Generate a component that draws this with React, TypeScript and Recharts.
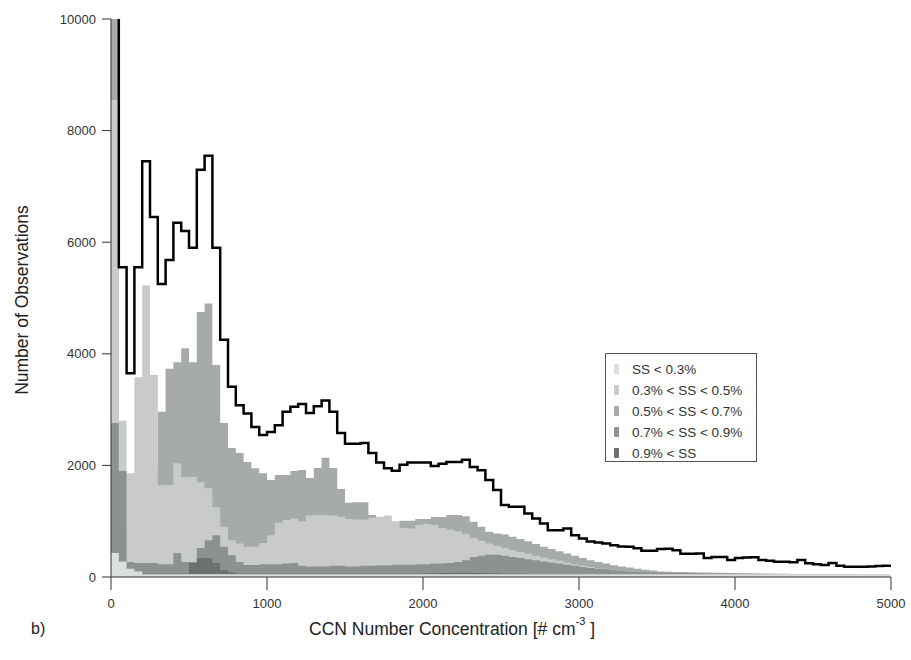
import React from 'react';
import { ComposedChart, Area, Line, XAxis, YAxis } from 'recharts';

const BIN_WIDTH = 50;

// Total observations per 50 cm^-3 bin (black step line)
const totalCounts = [
  12000, 5550, 3650, 5550, 7450, 6450, 5250, 5680, 6350, 6200,
  5900, 7300, 7550, 5900, 4250, 3410, 3080, 2930, 2690, 2545,
  2600, 2720, 2960, 3050, 3100, 2940, 3060, 3165, 2960, 2580,
  2390, 2390, 2400, 2220, 2050, 1950, 1905, 2010, 2050, 2050,
  2050, 1990, 2030, 2060, 2060, 2100, 1970, 1915, 1740, 1560,
  1290, 1260, 1260, 1140, 1050, 960, 840, 840, 870, 750,
  690, 635, 620, 600, 570, 545, 540, 515, 470, 470,
  500, 505, 480, 415, 415, 420, 340, 360, 360, 305,
  340, 350, 355, 305, 290, 275, 275, 265, 305, 245,
  230, 215, 250, 200, 185, 185, 185, 190, 195, 200,
];

// SS < 0.3%
const ssBelow03 = [
  430, 280, 150, 100, 50, 50, 50, 50, 50, 50,
  50, 50, 50, 50, 50, 50, 50, 50, 50, 50,
  50, 50, 50, 50, 50, 50, 50, 50, 50, 50,
  50, 50, 50, 50, 50, 50, 50, 50, 50, 50,
  50, 50, 50, 50, 50, 50, 50, 50, 50, 50,
  50, 50, 50, 50, 50, 50, 50, 50, 50, 50,
  50, 50, 50, 50, 50, 50, 50, 50, 50, 50,
  50, 50, 50, 50, 50, 50, 50, 50, 50, 50,
  50, 50, 50, 50, 50, 50, 50, 50, 50, 50,
  50, 50, 50, 50, 50, 50, 50, 50, 50, 50,
];

// 0.3% < SS < 0.5%
const ss03to05 = [
  8550, 2800, 1860, 3580, 5230, 3620, 1650, 1650, 2040, 1790,
  1790, 1700, 1590, 1250, 900, 660, 600, 540, 540, 610,
  750, 970, 1020, 1050, 1000, 1100, 1110, 1110, 1100, 1080,
  1040, 1030, 1030, 1060, 1080, 1100, 1000, 880, 870, 930,
  950, 930, 880, 850, 820, 770, 700, 650, 600, 560,
  520, 480, 450, 420, 380, 350, 320, 290, 260, 230,
  200, 180, 160, 140, 120, 110, 100, 90, 80, 70,
  65, 60, 58, 55, 52, 50, 48, 46, 44, 42,
  40, 39, 38, 37, 36, 35, 34, 33, 32, 31,
  30, 30, 29, 28, 28, 27, 26, 26, 25, 25,
];

// 0.5% < SS < 0.7%
const ss05to07 = [
  11000, 600, 300, 300, 800, 2000, 2960, 3730, 3850, 4100,
  3850, 4750, 4900, 3800, 2760, 2310, 2220, 2060, 1950, 1860,
  1740, 1830, 1830, 1900, 1917, 1774, 1953, 2138, 1953, 1577,
  1332, 1340, 1340, 1111, 1057, 991, 991, 1010, 1010, 1040,
  1040, 1075, 1075, 1111, 1111, 1090, 991, 902, 812, 780,
  760, 720, 680, 640, 590, 540, 500, 460, 420, 380,
  340, 300, 270, 240, 210, 190, 170, 150, 130, 115,
  100, 95, 90, 88, 85, 82, 80, 78, 75, 72,
  70, 68, 66, 64, 62, 60, 58, 56, 55, 54,
  53, 52, 51, 50, 49, 48, 47, 46, 45, 44,
];

// 0.7% < SS < 0.9%
const ss07to09 = [
  2760, 1900, 270, 250, 250, 250, 230, 230, 430, 270,
  270, 520, 660, 750, 540, 390, 270, 215, 215, 230,
  230, 230, 240, 250, 200, 190, 190, 190, 200, 200,
  190, 190, 200, 200, 210, 210, 220, 220, 220, 230,
  230, 240, 240, 250, 270, 300, 360, 380, 400, 400,
  380, 360, 340, 320, 300, 280, 260, 240, 220, 200,
  180, 160, 150, 140, 120, 110, 100, 90, 85, 80,
  78, 75, 72, 70, 68, 66, 64, 62, 60, 58,
  57, 56, 55, 54, 53, 52, 51, 50, 49, 48,
  47, 46, 45, 44, 43, 42, 41, 40, 40, 40,
];

// 0.9% < SS
const ssAbove09 = [
  100, 80, 60, 60, 60, 60, 60, 60, 60, 60,
  250, 340, 340, 250, 120, 80, 60, 60, 60, 60,
  60, 60, 60, 60, 60, 60, 60, 60, 60, 60,
  60, 60, 60, 60, 60, 60, 60, 60, 60, 60,
  65, 65, 70, 70, 75, 75, 70, 70, 65, 65,
  60, 60, 60, 55, 55, 55, 50, 50, 50, 50,
  45, 45, 45, 45, 40, 40, 40, 40, 40, 40,
  35, 35, 35, 35, 35, 35, 35, 35, 35, 35,
  30, 30, 30, 30, 30, 30, 30, 30, 30, 30,
  30, 30, 30, 30, 30, 30, 30, 30, 30, 30,
];

const xTicks = [0, 1000, 2000, 3000, 4000, 5000];
const yTicks = [0, 2000, 4000, 6000, 8000, 10000];

const seriesInfo = [
  { key: 'ss05to07', label: '0.5% < SS < 0.7%', color: '#a6abaa' },
  { key: 'ss03to05', label: '0.3% < SS < 0.5%', color: '#c9caca' },
  { key: 'ss07to09', label: '0.7% < SS < 0.9%', color: '#8d9291' },
  { key: 'ssAbove09', label: '0.9% < SS', color: '#6c7170' },
  { key: 'ssBelow03', label: 'SS < 0.3%', color: '#dcdfdf' },
];

const legendOrder = ['ssBelow03', 'ss03to05', 'ss05to07', 'ss07to09', 'ssAbove09'];

const n = totalCounts.length;
const data = Array.from({ length: n + 1 }, (_, i) => {
  const j = Math.min(i, n - 1);
  return {
    x: i * BIN_WIDTH,
    total: totalCounts[j],
    ssBelow03: ssBelow03[j],
    ss03to05: ss03to05[j],
    ss05to07: ss05to07[j],
    ss07to09: ss07to09[j],
    ssAbove09: ssAbove09[j],
  };
});

const FONT = '"Liberation Sans", Arial, Helvetica, sans-serif';

export default function App() {
  return (
    <div style={{ position: 'absolute', left: 0, top: 0, width: 911, height: 660, background: '#fff', fontFamily: FONT }}>
      <ComposedChart width={911} height={660} data={data} margin={{ top: 19, right: 20, bottom: 0, left: 0 }}>
        <XAxis
          type="number"
          dataKey="x"
          domain={[0, 5000]}
          ticks={xTicks}
          allowDataOverflow
          height={83}
          tickSize={13}
          tickMargin={9}
          axisLine={{ stroke: '#333', strokeWidth: 1 }}
          tickLine={{ stroke: '#333', strokeWidth: 1 }}
          tick={{ fill: '#333', fontSize: 13, fontFamily: FONT }}
        />
        <YAxis
          type="number"
          domain={[0, 10000]}
          ticks={yTicks}
          allowDataOverflow
          width={111}
          tickSize={9}
          tickMargin={6}
          axisLine={{ stroke: '#333', strokeWidth: 1 }}
          tickLine={{ stroke: '#333', strokeWidth: 1 }}
          tick={{ fill: '#333', fontSize: 13, fontFamily: FONT }}
        />
        {seriesInfo.map((s) => (
          <Area
            key={s.key}
            type="stepAfter"
            dataKey={s.key}
            stroke="none"
            fill={s.color}
            fillOpacity={1}
            isAnimationActive={false}
            dot={false}
            activeDot={false}
          />
        ))}
        <Line
          type="stepAfter"
          dataKey="total"
          stroke="#000"
          strokeWidth={2.5}
          dot={false}
          activeDot={false}
          isAnimationActive={false}
        />
      </ComposedChart>

      <div style={{ position: 'absolute', left: 0, top: 300, width: 44, height: 0 }}>
        <div
          style={{
            position: 'absolute',
            left: 22,
            top: 0,
            transform: 'translate(-50%, -50%) rotate(-90deg)',
            whiteSpace: 'nowrap',
            fontSize: 17.5,
            color: '#222',
          }}
        >
          Number of Observations
        </div>
      </div>

      <div style={{ position: 'absolute', left: 31, top: 620, fontSize: 16, color: '#222' }}>b)</div>

      <div
        style={{
          position: 'absolute',
          left: 452,
          top: 619,
          transform: 'translateX(-50%)',
          whiteSpace: 'nowrap',
          fontSize: 17.5,
          color: '#222',
        }}
      >
        CCN Number Concentration [# cm<sup style={{ fontSize: 11, verticalAlign: 'top', position: 'relative', top: -4 }}>-3</sup> ]
      </div>

      <div
        style={{
          position: 'absolute',
          left: 605,
          top: 353,
          width: 152,
          height: 109,
          border: '1px solid #555',
          background: '#fff',
          boxSizing: 'border-box',
        }}
      >
        {legendOrder.map((k, i) => {
          const s = seriesInfo.find((v) => v.key === k)!;
          return (
            <div
              key={k}
              style={{ position: 'absolute', left: 8, top: 5 + i * 21, height: 20, display: 'flex', alignItems: 'center', whiteSpace: 'nowrap' }}
            >
              <div style={{ width: 5, height: 10, background: s.color, marginRight: 13, borderRadius: 1 }} />
              <span style={{ fontSize: 13.5, color: '#333' }}>{s.label}</span>
            </div>
          );
        })}
      </div>
    </div>
  );
}
